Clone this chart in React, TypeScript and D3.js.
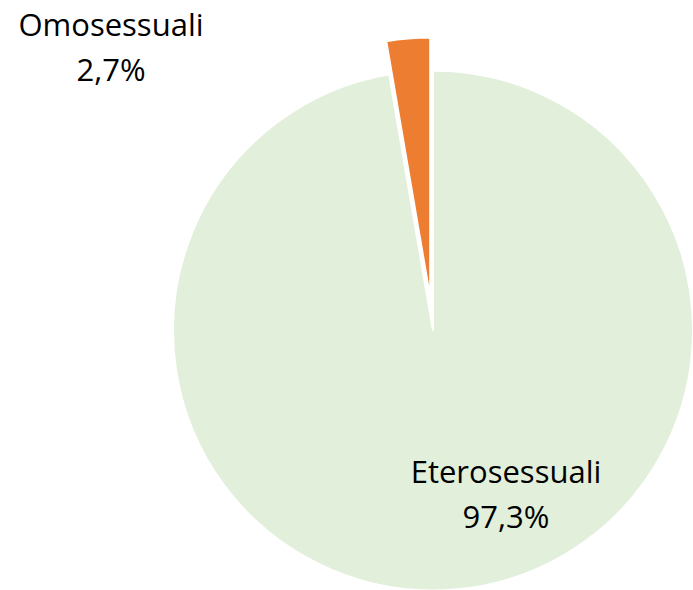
import * as d3 from "d3";
import { useRef, useEffect } from "react";

const categories = ["Eterosessuali", "Omosessuali"];
const values = [97.3, 2.7];
const valueLabels = ["97,3%", "2,7%"];
const colors = ["#E2EFDA", "#ED7D31"];

const App = () => {
  const svgRef = useRef<SVGSVGElement>(null);
  const width = 693;
  const height = 590;
  const cx = 433;
  const cy = 330.5;
  const radius = 260;
  const explode = 33;

  useEffect(() => {
    const svgEl = d3.select(svgRef.current);
    svgEl.selectAll("*").remove();

    const pie = d3
      .pie<number>()
      .sort(null)
      .value((d) => d);
    const arcs = pie(values);
    const arc = d3.arc<d3.PieArcDatum<number>>().innerRadius(0).outerRadius(radius);

    const g = svgEl.append("g").attr("transform", `translate(${cx},${cy})`);

    // slices, the small one pulled out along its mid angle
    g.selectAll("path")
      .data(arcs)
      .enter()
      .append("path")
      .attr("d", arc)
      .attr("fill", (d, i) => colors[i])
      .attr("stroke", "#fff")
      .attr("stroke-width", 2)
      .attr("transform", (d, i) => {
        if (i !== 1) return null;
        const mid = (d.startAngle + d.endAngle) / 2;
        return `translate(${Math.sin(mid) * explode},${-Math.cos(mid) * explode})`;
      });

    // labels
    const labelPos = [
      { x: 506, y: 483 },
      { x: 111, y: 36 },
    ];
    const labels = svgEl
      .append("g")
      .attr("font-family", "'Open Sans', sans-serif")
      .attr("font-size", 31)
      .attr("fill", "#000")
      .attr("text-anchor", "middle");
    categories.forEach((c, i) => {
      const t = labels.append("text").attr("x", labelPos[i].x).attr("y", labelPos[i].y);
      t.append("tspan").attr("x", labelPos[i].x).text(c);
      t.append("tspan").attr("x", labelPos[i].x).attr("dy", 45).text(valueLabels[i]);
    });
  }, []);

  return (
    <svg
      ref={svgRef}
      width={width}
      height={height}
      style={{ position: "absolute", left: 0, top: 0, background: "#fff" }}
    />
  );
};

export default App;
